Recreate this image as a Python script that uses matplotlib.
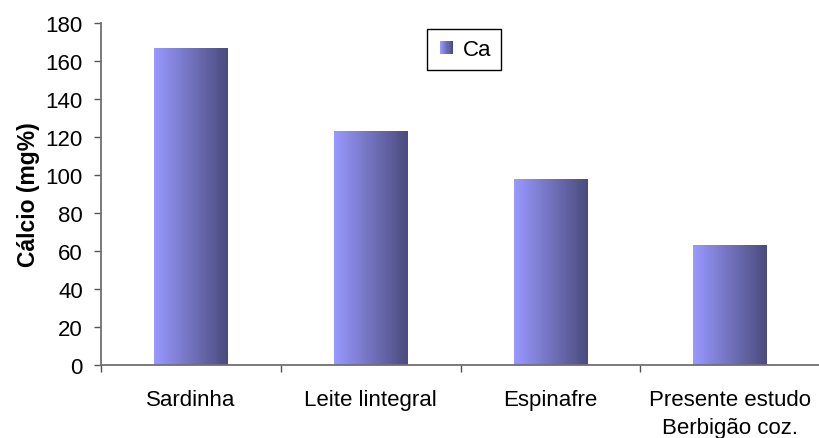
import numpy as np
import matplotlib
matplotlib.use("Agg")
import matplotlib.pyplot as plt
from matplotlib.patches import Rectangle
from matplotlib.legend_handler import HandlerBase
from matplotlib.colors import LinearSegmentedColormap

plt.rcParams['font.family'] = ['Liberation Sans', 'DejaVu Sans']

categories = ['Sardinha', 'Leite lintegral', 'Espinafre', 'Presente estudo\nBerbigão coz.']
calcio = [167, 123, 98, 63]
serie = 'Ca'

cor_clara = '#9999ff'
cor_escura = '#4b4b7d'
grad = LinearSegmentedColormap.from_list('grad', [cor_clara, cor_escura])


class HandlerGrad(HandlerBase):
    # legend key drawn as vertical stripes going light -> dark
    def create_artists(self, legend, orig_handle, xdescent, ydescent,
                       width, height, fontsize, trans):
        n = 12
        side = 9.5
        x0 = width - side - xdescent
        y0 = (height - side) / 2 - ydescent
        arts = []
        for i in range(n):
            r = Rectangle((x0 + i * side / n, y0), side / n + 0.05, side,
                          facecolor=grad(i / (n - 1)), edgecolor='none',
                          transform=trans)
            arts.append(r)
        return arts


fig = plt.figure(figsize=(8.2, 4.39), dpi=100)
ax = fig.add_axes([0.1232, 0.1663, 0.8768, 0.779])

x = np.arange(len(categories))
bars = ax.bar(x, calcio, width=0.41, color='none', edgecolor='none', label=serie)

gradiente = np.linspace(0, 1, 256).reshape(1, -1)
for b in bars:
    x0, y0 = b.get_x(), b.get_y()
    w, h = b.get_width(), b.get_height()
    im = ax.imshow(gradiente, cmap=grad, aspect='auto',
                   extent=[x0, x0 + w, y0, y0 + h], zorder=2)
    im.set_clip_path(b)

ax.set_xlim(-0.5, len(categories) - 0.5)
ax.set_ylim(0, 180)
ax.set_yticks(np.arange(0, 181, 20))

# boundary ticks on the category axis, labels centred between them
ax.set_xticks(np.arange(-0.5, len(categories) + 0.5, 1.0))
ax.set_xticklabels([])
ax.set_xticks(x, minor=True)
ax.set_xticklabels(categories, minor=True, fontsize=16, linespacing=1.45)
ax.tick_params(axis='x', which='minor', length=0, pad=17)
ax.tick_params(axis='x', which='major', direction='out', length=5, width=1, color='#555555')
ax.tick_params(axis='y', direction='out', length=5, width=1, color='#555555',
               labelsize=16, pad=8)

for s in ['top', 'right']:
    ax.spines[s].set_visible(False)
for s in ['left', 'bottom']:
    ax.spines[s].set_color('#707070')
    ax.spines[s].set_linewidth(1.3)

ax.set_ylabel('Cálcio (mg%)', fontsize=16.5, fontweight='bold', labelpad=4)

leg = ax.legend(handler_map={type(bars): HandlerGrad()}, loc='upper left',
                bbox_to_anchor=(0.454, 0.982), borderaxespad=0, fontsize=16,
                fancybox=False, edgecolor='black', framealpha=1,
                handlelength=0.7, handletextpad=0.45, borderpad=0.45)
leg.get_frame().set_linewidth(1)

fig.savefig('out.png', dpi=100)
